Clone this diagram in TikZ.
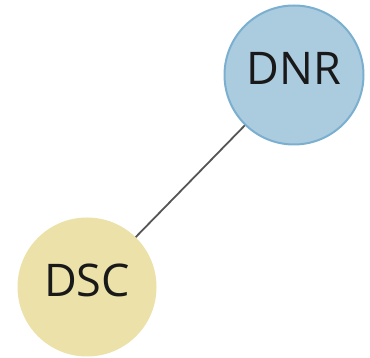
\documentclass[tikz,border=0pt]{standalone}
\usepackage{fontspec}
\setmainfont{Open Sans}
\usepackage{xcolor}
\usepackage{tikz}

\definecolor{dnrfill}{HTML}{ABCBDF}
\definecolor{dnrline}{HTML}{7BAFD0}
\definecolor{dscfill}{HTML}{ECE1A8}
\definecolor{linkgray}{HTML}{555555}

\begin{document}
\begin{tikzpicture}[x=1pt, y=-1pt,
        bubble/.style={circle, minimum size=139pt, inner sep=0pt, text depth=14pt, font=\fontsize{45}{45}\selectfont, text=black!90},
        link/.style={draw=linkgray, line width=1.8pt}
    ]
        \useasboundingbox (0,0) rectangle (370,358);
        \node[bubble, fill=dnrfill, draw=dnrline, line width=2pt] (dnr) at (294,75) {DNR};
        \node[bubble, fill=dscfill] (dsc) at (87,287) {DSC};
        
        \draw[link] (dsc) -- (dnr);
    \end{tikzpicture}
\end{document}
